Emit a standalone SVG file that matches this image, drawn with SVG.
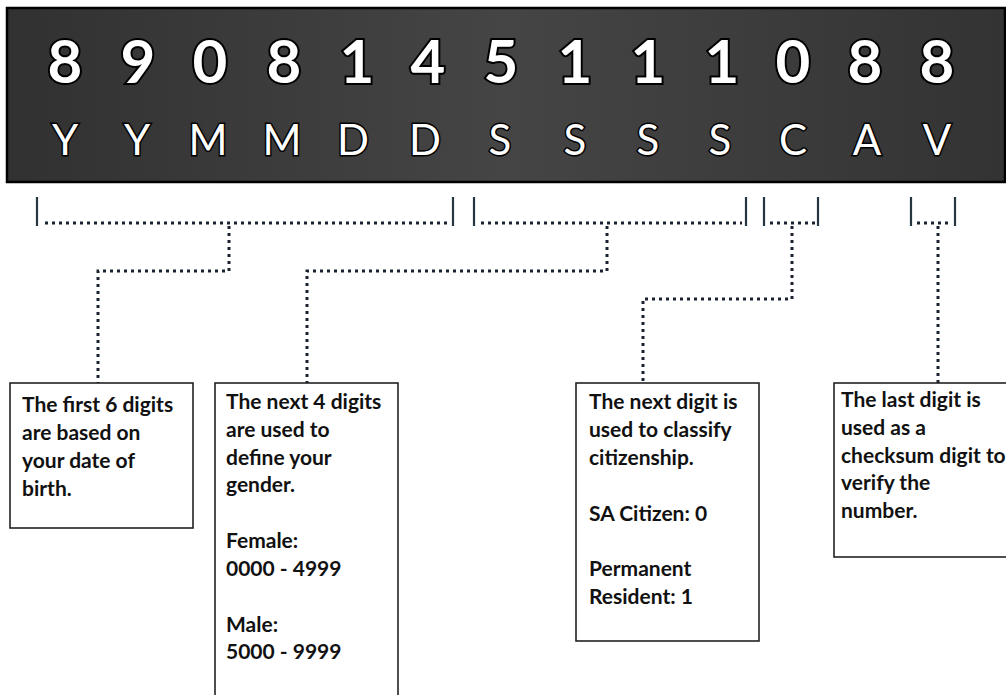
<svg xmlns="http://www.w3.org/2000/svg" width="1006" height="695" viewBox="0 0 1006 695">
<defs>
<linearGradient id="bg" x1="0" y1="0" x2="1" y2="0">
<stop offset="0" stop-color="#313131"/>
<stop offset="0.5" stop-color="#454545"/>
<stop offset="1" stop-color="#333333"/>
</linearGradient>
</defs>
<style>
.digit{font-family:Lato,"Liberation Sans",sans-serif;font-weight:700;font-size:60px;fill:#fff;stroke:#000;stroke-width:4;paint-order:stroke;text-anchor:middle}
.letter{font-family:Lato,"Liberation Sans",sans-serif;font-weight:400;font-size:42px;fill:#fff;stroke:#000;stroke-width:3;paint-order:stroke;text-anchor:middle}
.bar{stroke:#263640;stroke-width:2.2;fill:none}
.dots{stroke:#1a2230;stroke-width:3;fill:none;stroke-dasharray:3 4}
.box{fill:#fff;stroke:#222;stroke-width:1.6}
.t{font-family:Lato,"Liberation Sans",sans-serif;font-weight:700;font-size:21px;fill:#111}
</style>
<rect width="1006" height="695" fill="#fff"/>
<g id="banner">
<rect x="7" y="8" width="998" height="174" fill="url(#bg)" stroke="#000" stroke-width="2.5"/>
<text class="digit" x="65" y="83">8</text>
<text class="digit" x="138" y="83">9</text>
<text class="digit" x="210" y="83">0</text>
<text class="digit" x="284" y="83">8</text>
<text class="digit" x="357" y="83">1</text>
<text class="digit" x="428" y="83">4</text>
<text class="digit" x="501" y="83">5</text>
<text class="digit" x="575" y="83">1</text>
<text class="digit" x="648" y="83">1</text>
<text class="digit" x="722" y="83">1</text>
<text class="digit" x="793" y="83">0</text>
<text class="digit" x="865" y="83">8</text>
<text class="digit" x="937" y="83">8</text>
<text class="letter" x="65" y="155">Y</text>
<text class="letter" x="137" y="155">Y</text>
<text class="letter" x="208" y="155">M</text>
<text class="letter" x="282" y="155">M</text>
<text class="letter" x="353" y="155">D</text>
<text class="letter" x="425" y="155">D</text>
<text class="letter" x="500" y="155">S</text>
<text class="letter" x="575" y="155">S</text>
<text class="letter" x="648" y="155">S</text>
<text class="letter" x="720" y="155">S</text>
<text class="letter" x="793" y="155">C</text>
<text class="letter" x="867" y="155">A</text>
<text class="letter" x="937" y="155">V</text>
</g>
<g id="connectors">
<path class="bar" d="M37 197V226M453 197V226M474 197V226M746 197V226M764 197V226M818 197V226M911 197V226M955 197V226"/>
<path class="dots" d="M45 223H449M481 223H742M770 223H815M917 223H952"/>
<path class="dots" d="M229 226V271H98V383"/>
<path class="dots" d="M607 226V271H307V383"/>
<path class="dots" d="M792 226V299H643V383"/>
<path class="dots" d="M938 226V383"/>
</g>
<g id="box1">
<rect class="box" x="10" y="383" width="183" height="145"/>
<text class="t" x="22" y="412">The first 6 digits</text>
<text class="t" x="22" y="440">are based on</text>
<text class="t" x="22" y="468">your date of</text>
<text class="t" x="22" y="496">birth.</text>
</g>
<g id="box2">
<rect class="box" x="215" y="383" width="183" height="320"/>
<text class="t" x="226" y="409">The next 4 digits</text>
<text class="t" x="226" y="437">are used to</text>
<text class="t" x="226" y="465">define your</text>
<text class="t" x="226" y="492">gender.</text>
<text class="t" x="226" y="548">Female:</text>
<text class="t" x="226" y="576">0000 - 4999</text>
<text class="t" x="226" y="632">Male:</text>
<text class="t" x="226" y="659">5000 - 9999</text>
</g>
<g id="box3">
<rect class="box" x="576" y="383" width="183" height="258"/>
<text class="t" x="589" y="409">The next digit is</text>
<text class="t" x="589" y="437">used to classify</text>
<text class="t" x="589" y="465">citizenship.</text>
<text class="t" x="589" y="521">SA Citizen: 0</text>
<text class="t" x="589" y="576">Permanent</text>
<text class="t" x="589" y="604">Resident: 1</text>
</g>
<g id="box4">
<rect class="box" x="834" y="383" width="190" height="174"/>
<text class="t" x="841" y="407">The last digit is</text>
<text class="t" x="841" y="435">used as a</text>
<text class="t" x="841" y="463">checksum digit to</text>
<text class="t" x="841" y="490">verify the</text>
<text class="t" x="841" y="518">number.</text>
</g>
</svg>
